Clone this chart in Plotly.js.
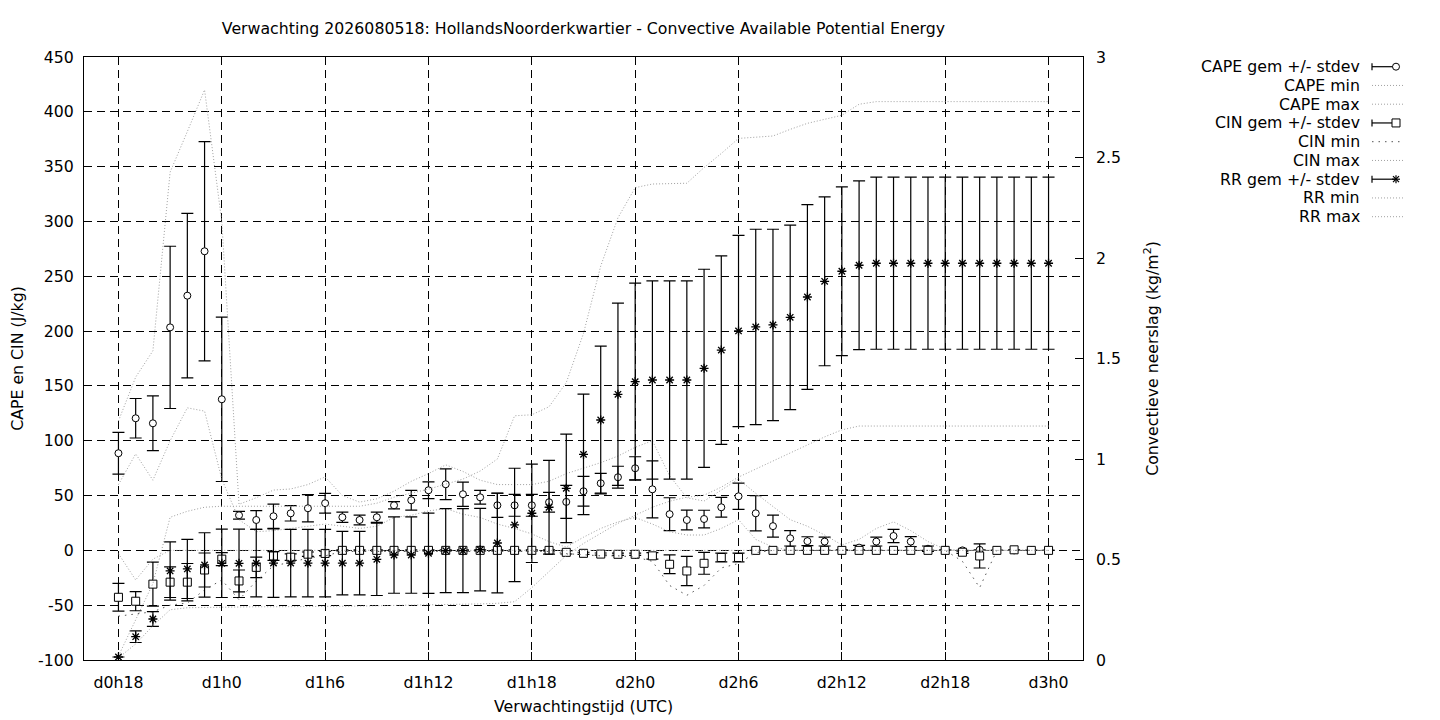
<!DOCTYPE html>
<html>
<head>
<meta charset="utf-8">
<script src="https://cdn.plot.ly/plotly-3.0.1.min.js"></script>
<style>body{margin:0;background:#fff}</style>
</head>
<body>
<div id="chart" style="width:1440px;height:720px"></div>
<script>
// forecast hours (h since d0h0)
const hours = [18,19,20,21,22,23, 24,25,26,27,28,29, 30,31,32,33,34,35, 36,37,38,39,40,41,
  42,43,44,45,46,47, 48,49,50,51,52,53, 54,55,56,57,58,59, 60,61,62,63,64,65, 66,67,68,69,70,71,72];

const capeMean = [88.6,120.5,115.9,203.4,232.3,272.8, 137.8,32.0,27.7,31.1,33.8,38.4,
  43.0,30.2,27.7,30.2,41.1,45.7, 54.8,60.3,51.2,48.4,41.1,41.1, 41.1,43.9,44.2,53.9,61.2,66.7,
  74.9,55.7,33.0,27.7,28.6,39.3, 49.3,33.8,22.1,11.0,8.4,8.0, 0.5,2.5,8.0,13.1,8.0,1.5,
  0.5,0,0.5,0,0,0,0];
const capeSd = [19,18,25,74,75,100, 75,3.5,8.5,11,7,12.5, 9,4.7,4.5,4.7,3.3,9,
  7.6,14,11,6.3,11,10, 10,9,15,13.6,9,10, 10.5,26,15,9,8,9, 12,16,10,7,4,4,
  0,2.1,4,6,4.5,2.5, 0,0,0,0,0,0,0];
const capeMin = [60,88,64,100,130,127, 65,28,17,18,20,22, 24,22,20,22,30,32,
  36,38,33,30,24,20, 15,8,3,12,20,26, 30,24,17,14,14,20, 28,10,3,0,0,0,
  0,0,0,0,0,0, 0,0,0,0,0,0,0];
const capeMax = [118,158,182,345,382,420, 300,42,48,55,56,60, 67,50,44,47,54,63,
  70,78,72,64,60,60, 60,63,70,75,80,86, 94,100,68,48,45,55, 65,52,40,28,22,14,
  5,10,20,26,18,8, 1,0,0,0,0,0,0];

const cinMean = [-42.8,-46.4,-30.8,-29.0,-29.0,-17.9, -8.0,-27.9,-15.5,-5.1,-6.2,-3.5,
  -2.8,0,0,0,0,0, 0,0,0,0,0,0, 0,0,-1.8,-2.7,-3.4,-3.6, -3.6,-5.0,-12.7,-18.8,-11.8,-6.5,
  -6.5,0,0,0,0,0, 0,0,0,0,0,0, 0,-1.7,-5.1,0,0.5,0,0];
const cinSd = [12.6,8.7,20,14,17,15.5, 6,10,9.4,4,3,2, 2,0.5,0.5,0.5,0.5,0.5,
  0.5,0.5,0.5,0.5,0.5,0.5, 0.5,0.5,1.5,1,1,1, 1,3,8.6,13.4,10,4, 4,0,0,0,0,0,
  0,0,0,0,0,0, 0,1,11,0,0,0,0];
const cinMin = [-60,-58,-56,-50,-48,-36, -27,-45,-28,-14,-11,-7, -5,-1,-1,-1,-1,-1,
  -1,-1,-1,-1,-1,-1, -1,-1,-3,-4,-5,-5, -6,-10,-32,-41,-32,-16, -12,-2,0,0,0,0,
  0,0,0,0,0,0, 0,-10,-34,0,0,0,0];
const cinMax = [-3,-27,-8,0,0,0, 0,0,0,0,0,0, 0,0,0,0,0,0, 0,0,0,0,0,0,
  0,0,0,0,0,0, 0,0,0,0,0,0, 0,0,0,0,0,0, 0,0,0,0,0,0, 0,0,0,0,0,0,0];

const rrMean = [0.015,0.116,0.204,0.443,0.453,0.473, 0.481,0.481,0.482,0.482,0.482,0.482,
  0.482,0.482,0.482,0.501,0.522,0.522, 0.531,0.544,0.544,0.549,0.582,0.672,
  0.730,0.760,0.854,1.023,1.194,1.322, 1.385,1.393,1.393,1.393,1.451,1.542,
  1.637,1.657,1.667,1.705,1.806,1.884, 1.934,1.964,1.974,1.974,1.974,1.974,
  1.974,1.974,1.974,1.974,1.974,1.974,1.974];
const rrSd = [0,0.029,0.037,0.145,0.147,0.160, 0.170,0.170,0.168,0.170,0.168,0.168,
  0.168,0.158,0.158,0.180,0.190,0.190, 0.200,0.209,0.209,0.205,0.248,0.282,
  0.245,0.233,0.270,0.300,0.368,0.453, 0.490,0.493,0.493,0.493,0.493,0.469,
  0.476,0.486,0.476,0.459,0.460,0.420, 0.420,0.420,0.428,0.428,0.428,0.428,
  0.428,0.428,0.428,0.428,0.428,0.428,0.428];
const rrMin = [0.01,0.08,0.17,0.25,0.26,0.262, 0.263,0.264,0.265,0.265,0.265,0.266,
  0.266,0.267,0.268,0.270,0.271,0.272, 0.273,0.275,0.277,0.279,0.282,0.29,
  0.36,0.44,0.52,0.58,0.63,0.68, 0.72,0.76,0.79,0.81,0.82,0.86,
  0.91,0.95,0.99,1.03,1.07,1.11, 1.145,1.164,1.164,1.164,1.164,1.164,
  1.164,1.164,1.164,1.164,1.164,1.164,1.164];
const rrMax = [0.02,0.2,0.38,0.71,0.74,0.76, 0.765,0.765,0.765,0.765,0.765,0.765,
  0.765,0.765,0.765,0.78,0.81,0.83, 0.85,0.875,0.9,0.94,1.0,1.215,
  1.22,1.26,1.38,1.625,1.96,2.2, 2.35,2.368,2.37,2.372,2.45,2.52,
  2.595,2.6,2.607,2.64,2.67,2.69, 2.71,2.765,2.778,2.778,2.778,2.778,
  2.778,2.778,2.778,2.778,2.778,2.778,2.778];

// axis ticks
const xTickVals = [18,24,30,36,42,48,54,60,66,72];
const xTickText = ['d0h18','d1h0','d1h6','d1h12','d1h18','d2h0','d2h6','d2h12','d2h18','d3h0'];
const yTickVals = [-100,-50,0,50,100,150,200,250,300,350,400,450];

const legendNames = ['CAPE gem +/- stdev','CAPE min','CAPE max','CIN gem +/- stdev','CIN min',
  'CIN max','RR gem +/- stdev','RR min','RR max'];

const FONT = 'DejaVu Sans, sans-serif';
const FS = 15.75;
const GREY = '#a0a0a0';
const DARK = '#555555';
const DOT = '1px,2px';
const SPARSE = '1.5px,5px';

function meanTrace(y, sd, symbol, size, yaxis) {
  return {
    x: hours, y: y, type: 'scatter', mode: 'markers', yaxis: yaxis,
    marker: {symbol: symbol, size: size, color: 'white', line: {color: 'black', width: 1}},
    error_y: {type: 'data', array: sd, visible: true, color: 'black', thickness: 1.2, width: 6},
    hoverinfo: 'skip'
  };
}
function lineTrace(y, color, dash, yaxis) {
  return {
    x: hours, y: y, type: 'scatter', mode: 'lines', yaxis: yaxis,
    line: {color: color, dash: dash, width: 1}, hoverinfo: 'skip'
  };
}

let traces = [
  meanTrace(capeMean, capeSd, 'circle', 7, 'y'),
  lineTrace(capeMin, GREY, DOT, 'y'),
  lineTrace(capeMax, GREY, DOT, 'y'),
  meanTrace(cinMean, cinSd, 'square', 8, 'y'),
  lineTrace(cinMin, DARK, SPARSE, 'y'),
  lineTrace(cinMax, GREY, DOT, 'y'),
  meanTrace(rrMean, rrSd, 'asterisk-open', 7.5, 'y2'),
  lineTrace(rrMin, GREY, DOT, 'y2'),
  lineTrace(rrMax, GREY, DOT, 'y2')
];
// open symbols take their stroke from marker.color
traces[6].marker.color = 'black';
traces[6].marker.line.width = 1.3;

// pixel -> paper helpers (plot area 84..1083 x 57..660)
const PL = 84, PR = 1083, PT = 57, PB = 660;
const px = p => (p - PL) / (PR - PL);
const py = p => (PB - p) / (PB - PT);

// gnuplot-like key: right aligned text, sample after it
let annotations = [], shapes = [];
const keyText = 1362, keyS0 = 1372, keyS1 = 1404;
legendNames.forEach((name, i) => {
  const yy = 66.7 + i * 18.75;
  annotations.push({xref: 'paper', yref: 'paper', x: px(keyText), y: py(yy), text: name,
    xanchor: 'right', yanchor: 'middle', showarrow: false, font: {family: FONT, size: FS, color: 'black'}});
  const kind = i % 3;
  if (kind === 0) {
    shapes.push({type: 'line', xref: 'paper', yref: 'paper', x0: px(keyS0), x1: px(1396), y0: py(yy), y1: py(yy), line: {color: 'black', width: 1.2}});
    shapes.push({type: 'line', xref: 'paper', yref: 'paper', x0: px(keyS0), x1: px(keyS0), y0: py(yy - 3.5), y1: py(yy + 3.5), line: {color: 'black', width: 1.2}});
    const cx = 1396, r = 3.5;
    if (i === 0) {
      shapes.push({type: 'circle', xref: 'paper', yref: 'paper', x0: px(cx - r), x1: px(cx + r), y0: py(yy + r), y1: py(yy - r), fillcolor: 'white', line: {color: 'black', width: 1}});
    } else if (i === 3) {
      shapes.push({type: 'rect', xref: 'paper', yref: 'paper', x0: px(cx - 4), x1: px(cx + 4), y0: py(yy + 4), y1: py(yy - 4), fillcolor: 'white', line: {color: 'black', width: 1}});
    } else {
      [[-4,0,4,0],[0,-4,0,4],[-3,-3,3,3],[-3,3,3,-3]].forEach(d => {
        shapes.push({type: 'line', xref: 'paper', yref: 'paper', x0: px(cx + d[0]), x1: px(cx + d[2]), y0: py(yy + d[1]), y1: py(yy + d[3]), line: {color: 'black', width: 1.2}});
      });
    }
  } else {
    const isCinMin = (i === 4);
    shapes.push({type: 'line', xref: 'paper', yref: 'paper', x0: px(keyS0), x1: px(keyS1), y0: py(yy), y1: py(yy),
      line: {color: isCinMin ? DARK : GREY, width: 1, dash: isCinMin ? SPARSE : DOT}});
  }
});

const axisCommon = {
  ticks: 'inside', ticklen: 8, tickcolor: 'black', tickwidth: 1,
  showline: true, linecolor: 'black', linewidth: 1, zeroline: false,
  tickfont: {family: FONT, size: FS, color: 'black'}
};

const layout = {
  width: 1440, height: 720,
  margin: {l: PL, r: 1440 - PR, t: PT, b: 720 - PB, pad: 0},
  paper_bgcolor: 'white', plot_bgcolor: 'white',
  showlegend: false,
  font: {family: FONT, size: FS, color: 'black'},
  title: {text: 'Verwachting 2026080518: HollandsNoorderkwartier - Convective Available Potential Energy',
    x: 0.5, xref: 'paper', y: 1 - 28 / 720, yref: 'container', yanchor: 'middle',
    font: {family: FONT, size: FS, color: 'black'}},
  xaxis: Object.assign({}, axisCommon, {
    range: [16, 74], tickmode: 'array', tickvals: xTickVals, ticktext: xTickText,
    mirror: 'ticks', showgrid: true, gridcolor: 'black', gridwidth: 1, griddash: '8px,5px',
    ticklabelstandoff: 8,
    title: {text: 'Verwachtingstijd (UTC)', standoff: 10, font: {family: FONT, size: FS, color: 'black'}}
  }),
  yaxis: Object.assign({}, axisCommon, {
    range: [-100, 450], tickmode: 'array', tickvals: yTickVals, ticktext: yTickVals.map(String),
    mirror: true, showgrid: true, gridcolor: 'black', gridwidth: 1, griddash: '8px,5px',
    ticklabelstandoff: 6,
    title: {text: 'CAPE en CIN (J/kg)', standoff: 10, font: {family: FONT, size: FS, color: 'black'}}
  }),
  yaxis2: Object.assign({}, axisCommon, {
    overlaying: 'y', side: 'right', range: [0, 3], dtick: 0.5, tick0: 0,
    showgrid: false, showline: false, ticklabelstandoff: 12,
    title: {text: 'Convectieve neerslag (kg/m<sup>2</sup>)', standoff: 26, font: {family: FONT, size: FS, color: 'black'}}
  }),
  annotations: annotations,
  shapes: shapes
};

Plotly.newPlot('chart', traces, layout, {displayModeBar: false, staticPlot: true});
</script>
</body>
</html>
